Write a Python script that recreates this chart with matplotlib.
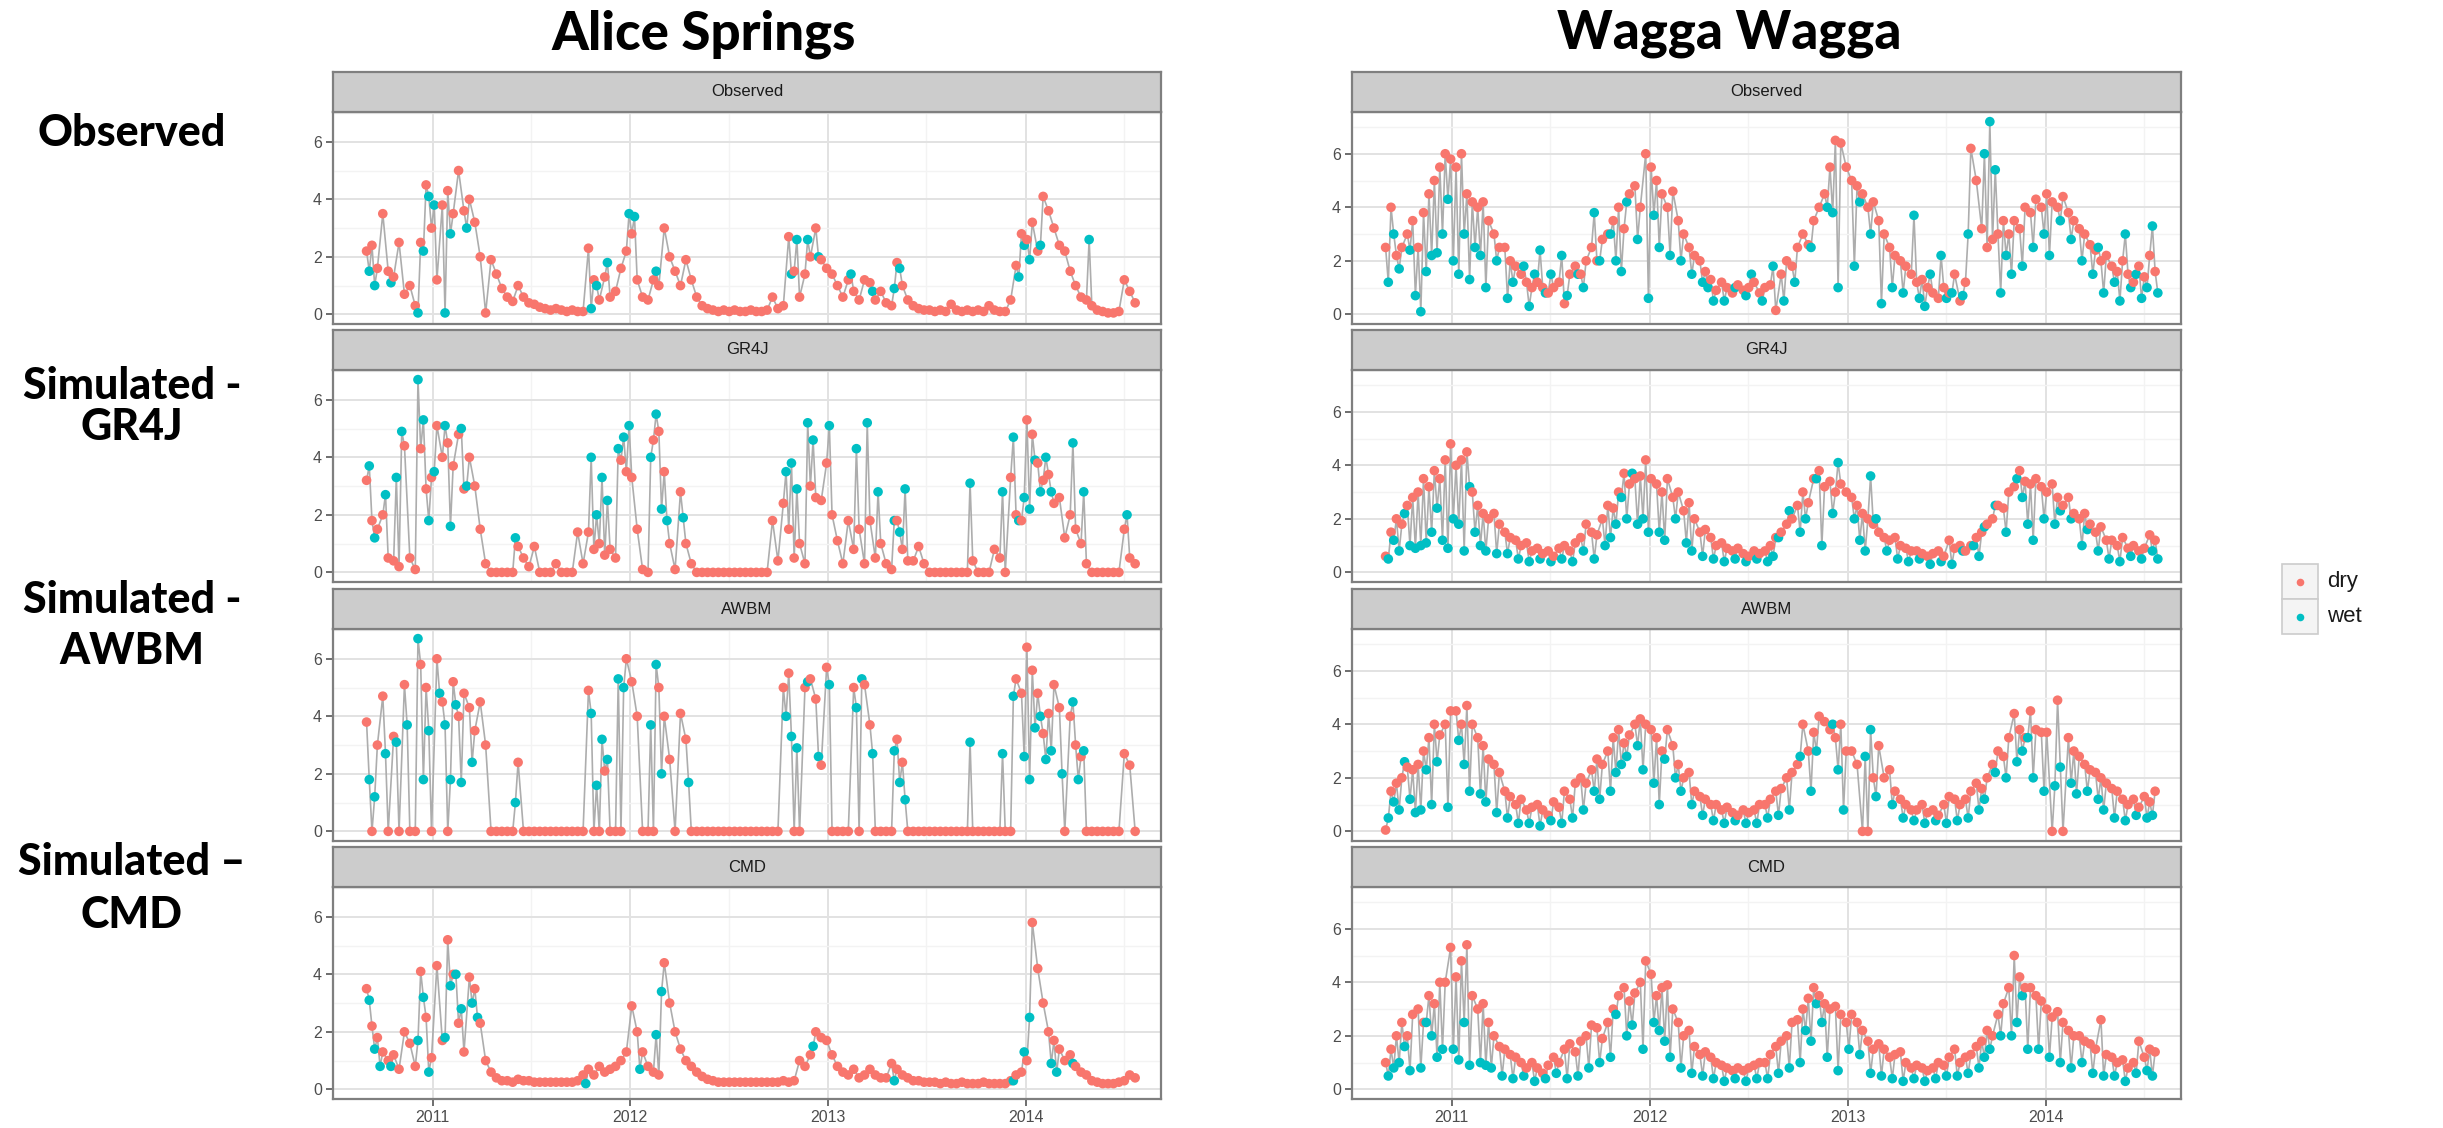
import numpy as np
import pandas as pd
import matplotlib
matplotlib.use("Agg")
import matplotlib.pyplot as plt
from matplotlib.patches import Rectangle

# ---------------------------------------------------------------- data
# values on a 10-day grid starting 1 Sep 2010.
# wet days are (grid index, value) pairs, placed 5 days after that grid date.
dates = pd.date_range("2010-09-01", periods=143, freq="10D")

sites = ["Alice Springs", "Wagga Wagga"]
models = ["Observed", "GR4J", "AWBM", "CMD"]
row_labels = [["Observed"], ["Simulated -", "GR4J"], ["Simulated -", "AWBM"],
              ["Simulated \u2013", "CMD"]]
year_ticks = [2011, 2012, 2013, 2014]
y_ticks = [0, 2, 4, 6]
legend_labels = ["dry", "wet"]

# ---- Alice Springs
as_obs_dry = [
    2.2, 2.4, 1.6, 3.5, 1.5, 1.3, 2.5, 0.7, 1.0, 0.3, 2.5, 4.5, 3.0,
    1.2, 3.8, 4.3, 3.5, 5.0, 3.6, 4.0, 3.2, 2.0, 0.05, 1.9, 1.4,
    0.9, 0.6, 0.45, 1.0, 0.6, 0.4, 0.35, 0.25, 0.2, 0.15, 0.2, 0.15,
    0.1, 0.15, 0.1, 0.1, 2.3, 1.2, 0.5, 1.3, 0.6, 0.8, 1.6, 2.2,
    2.8, 1.2, 0.6, 0.5, 1.2, 1.0, 3.0, 2.0, 1.5, 1.0, 1.9, 1.2,
    0.6, 0.3, 0.2, 0.15, 0.1, 0.15, 0.1, 0.15, 0.1, 0.1, 0.15, 0.1,
    0.1, 0.15, 0.6, 0.2, 0.3, 2.7, 1.5, 0.6, 1.4, 2.0, 3.0, 1.9, 1.6,
    1.4, 1.0, 0.6, 1.2, 0.8, 0.5, 1.2, 1.1, 0.5, 0.8, 0.4, 0.3,
    1.8, 1.0, 0.5, 0.3, 0.2, 0.15, 0.15, 0.1, 0.15, 0.1, 0.35, 0.15,
    0.1, 0.15, 0.1, 0.15, 0.1, 0.3, 0.15, 0.1, 0.1, 0.5, 1.7, 2.8,
    2.6, 3.2, 2.2, 4.1, 3.6, 3.0, 2.4, 2.2, 1.5, 1.0, 0.6, 0.5,
    0.3, 0.15, 0.1, 0.05, 0.05, 0.1, 1.2, 0.8, 0.4,
]
as_obs_wet = [(0, 1.5), (1, 1.0), (4, 1.1), (9, 0.05), (10, 2.2), (11, 4.1), (12, 3.8),
              (14, 0.05), (15, 2.8), (18, 3.0), (41, 0.2), (42, 1.0), (44, 1.8), (48, 3.5),
              (49, 3.4), (53, 1.5), (78, 1.4), (79, 2.6), (81, 2.6), (83, 2.0), (89, 1.4),
              (93, 0.8), (97, 0.9), (98, 1.6), (120, 1.3), (121, 2.4), (122, 1.9), (124, 2.4),
              (133, 2.6)]

as_gr4j_dry = [
    3.2, 1.8, 1.5, 2.0, 0.5, 0.4, 0.2, 4.4, 0.5, 0.1, 4.3, 2.9, 3.3,
    5.1, 4.0, 4.5, 3.7, 4.8, 2.9, 4.0, 3.0, 1.5, 0.3, 0.0, 0.0,
    0.0, 0.0, 0.0, 0.9, 0.5, 0.2, 0.9, 0.0, 0.0, 0.0, 0.3, 0.0,
    0.0, 0.0, 1.4, 0.3, 1.4, 0.8, 1.0, 0.6, 0.8, 0.5, 3.9, 3.5,
    3.3, 1.5, 0.1, 0.0, 4.6, 4.9, 3.5, 1.0, 0.1, 2.8, 1.0, 0.3,
    0.0, 0.0, 0.0, 0.0, 0.0, 0.0, 0.0, 0.0, 0.0, 0.0, 0.0, 0.0,
    0.0, 0.0, 1.8, 0.4, 2.4, 1.5, 0.5, 1.0, 0.3, 3.0, 2.6, 2.5, 3.8,
    2.0, 1.1, 0.3, 1.8, 0.8, 1.5, 0.3, 1.8, 0.5, 1.0, 0.3, 0.1,
    1.8, 0.8, 0.4, 0.4, 0.9, 0.3, 0.0, 0.0, 0.0, 0.0, 0.0, 0.0,
    0.0, 0.0, 0.4, 0.0, 0.0, 0.0, 0.8, 0.5, 0.0, 3.3, 2.0, 1.8,
    5.3, 4.8, 3.8, 3.2, 3.4, 2.4, 2.6, 1.2, 2.0, 1.5, 1.0, 0.3,
    0.0, 0.0, 0.0, 0.0, 0.0, 0.0, 1.5, 0.5, 0.3,
]
as_gr4j_wet = [(0, 3.7), (1, 1.2), (3, 2.7), (5, 3.3), (6, 4.9), (9, 6.7), (10, 5.3),
               (11, 1.8), (12, 3.5), (14, 5.1), (15, 1.6), (17, 5.0), (18, 3.0), (27, 1.2),
               (41, 4.0), (42, 2.0), (43, 3.3), (44, 2.5), (46, 4.3), (47, 4.7), (48, 5.1),
               (52, 4.0), (53, 5.5), (54, 2.2), (55, 1.8), (58, 1.9), (77, 3.5), (78, 3.8),
               (79, 2.9), (81, 5.2), (82, 4.6), (85, 5.1), (90, 4.3), (92, 5.2), (94, 2.8),
               (97, 1.8), (98, 1.4), (99, 2.9), (111, 3.1), (117, 2.8), (119, 4.7), (120, 1.8),
               (121, 2.6), (122, 2.2), (123, 3.9), (124, 2.8), (125, 4.0), (126, 2.8),
               (130, 4.5), (132, 2.8), (140, 2.0)]

as_awbm_dry = [
    3.8, 0.0, 3.0, 4.7, 0.0, 3.3, 0.0, 5.1, 0.0, 0.0, 5.8, 5.0, 0.0,
    6.0, 4.5, 0.0, 5.2, 4.0, 4.8, 4.3, 3.5, 4.5, 3.0, 0.0, 0.0,
    0.0, 0.0, 0.0, 2.4, 0.0, 0.0, 0.0, 0.0, 0.0, 0.0, 0.0, 0.0,
    0.0, 0.0, 0.0, 0.0, 4.9, 0.0, 0.0, 2.1, 0.0, 0.0, 0.0, 6.0,
    5.2, 4.0, 0.0, 0.0, 0.0, 5.0, 4.0, 2.5, 0.0, 4.1, 3.2, 0.0,
    0.0, 0.0, 0.0, 0.0, 0.0, 0.0, 0.0, 0.0, 0.0, 0.0, 0.0, 0.0,
    0.0, 0.0, 0.0, 0.0, 5.0, 5.5, 0.0, 0.0, 5.0, 5.3, 4.6, 2.3, 5.7,
    0.0, 0.0, 0.0, 0.0, 5.0, 0.0, 5.1, 3.7, 0.0, 0.0, 0.0, 0.0,
    3.2, 2.4, 0.0, 0.0, 0.0, 0.0, 0.0, 0.0, 0.0, 0.0, 0.0, 0.0,
    0.0, 0.0, 0.0, 0.0, 0.0, 0.0, 0.0, 0.0, 0.0, 0.0, 5.3, 4.8,
    6.4, 5.6, 4.8, 3.4, 4.1, 5.1, 4.3, 0.0, 4.0, 3.0, 2.6, 0.0,
    0.0, 0.0, 0.0, 0.0, 0.0, 0.0, 2.7, 2.3, 0.0,
]
as_awbm_wet = [(0, 1.8), (1, 1.2), (3, 2.7), (5, 3.1), (7, 3.7), (9, 6.7), (10, 1.8),
               (11, 3.5), (13, 4.8), (14, 3.7), (15, 1.8), (16, 4.4), (17, 1.7), (19, 2.4),
               (27, 1.0), (41, 4.1), (42, 1.6), (43, 3.2), (44, 2.5), (46, 5.3), (47, 5.0),
               (52, 3.7), (53, 5.8), (54, 2.0), (59, 1.7), (77, 4.0), (78, 3.3), (79, 2.9),
               (81, 5.2), (83, 2.6), (85, 5.1), (90, 4.3), (91, 5.3), (93, 2.7), (97, 2.8),
               (98, 1.7), (99, 1.1), (111, 3.1), (117, 2.7), (119, 4.7), (121, 2.6),
               (122, 1.8), (123, 3.6), (124, 4.0), (125, 2.5), (126, 2.8), (128, 2.0),
               (130, 4.5), (131, 1.8), (132, 2.8)]

as_cmd_dry = [
    3.5, 2.2, 1.8, 1.3, 1.0, 1.2, 0.7, 2.0, 1.6, 0.8, 4.1, 2.5, 1.1,
    4.3, 1.7, 5.2, 4.0, 2.3, 1.3, 3.9, 3.5, 2.3, 1.0, 0.6, 0.4,
    0.3, 0.3, 0.25, 0.35, 0.3, 0.3, 0.25, 0.25, 0.25, 0.25, 0.25, 0.25,
    0.25, 0.25, 0.3, 0.5, 0.7, 0.5, 0.8, 0.6, 0.7, 0.8, 1.0, 1.3,
    2.9, 2.0, 1.3, 0.8, 0.6, 0.5, 4.4, 3.0, 2.0, 1.4, 1.0, 0.8,
    0.6, 0.45, 0.35, 0.3, 0.25, 0.25, 0.25, 0.25, 0.25, 0.25, 0.25, 0.25,
    0.25, 0.25, 0.25, 0.25, 0.3, 0.25, 0.3, 1.0, 0.8, 1.2, 2.0, 1.8, 1.7,
    1.2, 0.8, 0.6, 0.5, 0.7, 0.4, 0.5, 0.7, 0.5, 0.4, 0.4, 0.9,
    0.7, 0.5, 0.4, 0.3, 0.3, 0.25, 0.25, 0.25, 0.2, 0.25, 0.2, 0.2,
    0.25, 0.2, 0.2, 0.2, 0.25, 0.2, 0.2, 0.2, 0.2, 0.3, 0.5, 0.6,
    1.0, 5.8, 4.2, 3.0, 2.0, 1.7, 1.4, 1.0, 1.2, 0.8, 0.6, 0.5,
    0.3, 0.25, 0.2, 0.2, 0.2, 0.25, 0.3, 0.5, 0.4,
]
as_cmd_wet = [(0, 3.1), (1, 1.4), (2, 0.8), (4, 0.8), (9, 1.7), (10, 3.2), (11, 0.6),
              (14, 1.8), (15, 3.6), (16, 4.0), (17, 2.8), (19, 3.0), (20, 2.5), (40, 0.2),
              (50, 0.7), (53, 1.9), (54, 3.4), (82, 1.5), (97, 0.3), (119, 0.3), (121, 1.3),
              (122, 2.5), (126, 0.9), (127, 0.6), (130, 0.9)]

# ---- Wagga Wagga
ww_obs_dry = [
    2.5, 4.0, 2.2, 2.5, 3.0, 3.5, 2.5, 3.8, 4.5, 5.0, 5.5, 6.0, 5.8,
    5.5, 6.0, 4.5, 4.2, 4.0, 4.2, 3.5, 3.0, 2.5, 2.5, 2.0, 1.8,
    1.5, 1.2, 1.0, 1.2, 1.0, 0.8, 1.0, 1.2, 0.4, 1.5, 1.8, 1.5,
    2.0, 2.5, 2.0, 2.8, 3.0, 3.5, 4.0, 3.2, 4.5, 4.8, 4.0, 6.0,
    5.5, 5.0, 4.5, 4.0, 4.6, 3.5, 3.0, 2.5, 2.2, 2.0, 1.6, 1.3,
    0.9, 1.2, 1.0, 0.8, 1.1, 0.9, 1.0, 1.2, 0.8, 1.0, 1.1, 0.15,
    1.5, 2.0, 1.8, 2.5, 3.0, 2.6, 3.5, 4.0, 4.5, 5.5, 6.5, 6.4, 5.5,
    5.0, 4.8, 4.5, 4.0, 4.2, 3.5, 3.0, 2.5, 2.2, 2.0, 1.8, 1.5,
    1.2, 1.3, 1.0, 0.8, 0.6, 1.0, 0.8, 1.5, 0.5, 1.2, 6.2, 5.0,
    3.2, 2.5, 2.8, 3.0, 3.5, 3.0, 3.5, 3.2, 4.0, 3.8, 4.3, 4.0,
    4.5, 4.2, 4.0, 4.4, 3.8, 3.5, 3.2, 3.0, 2.6, 2.4, 2.0, 2.2,
    1.8, 1.6, 2.0, 1.5, 1.2, 1.8, 1.4, 2.2, 1.6,
]
ww_obs_wet = [(0, 1.2), (1, 3.0), (2, 1.7), (4, 2.4), (5, 0.7), (6, 0.1), (7, 1.6),
              (8, 2.2), (9, 2.3), (10, 3.0), (11, 4.3), (12, 2.0), (13, 1.5), (14, 3.0),
              (15, 1.3), (16, 2.5), (17, 2.2), (18, 1.0), (20, 2.0), (22, 0.6), (23, 1.2),
              (25, 1.8), (26, 0.3), (27, 1.5), (28, 2.4), (29, 0.8), (30, 1.5), (32, 2.2),
              (33, 0.7), (35, 1.5), (36, 1.0), (38, 3.8), (39, 2.0), (41, 3.0), (42, 2.0),
              (43, 1.6), (44, 4.2), (46, 2.8), (48, 0.6), (49, 3.7), (50, 2.5), (52, 2.2),
              (54, 2.0), (56, 1.5), (58, 1.2), (59, 1.0), (60, 0.5), (62, 0.5), (64, 1.0),
              (66, 0.7), (67, 1.5), (69, 0.5), (71, 1.8), (73, 0.5), (75, 1.2), (78, 2.5),
              (81, 4.0), (82, 3.8), (83, 1.0), (86, 1.8), (87, 4.2), (89, 3.0), (91, 0.4),
              (93, 1.0), (95, 0.8), (97, 3.7), (98, 0.6), (99, 0.3), (100, 1.5), (102, 2.2),
              (103, 0.6), (104, 0.8), (106, 0.7), (107, 3.0), (110, 6.0), (111, 7.2),
              (112, 5.4), (113, 0.8), (114, 2.2), (115, 1.5), (117, 1.8), (119, 2.5),
              (121, 3.0), (122, 2.2), (124, 3.5), (126, 2.8), (128, 2.0), (130, 1.5),
              (131, 2.5), (132, 0.8), (134, 1.2), (135, 0.5), (136, 3.0), (137, 1.0),
              (138, 1.5), (139, 0.6), (140, 1.0), (141, 3.3), (142, 0.8)]

ww_gr4j_dry = [
    0.6, 1.5, 2.0, 1.8, 2.5, 2.8, 3.0, 3.5, 3.2, 3.8, 3.5, 4.2, 4.8,
    4.0, 4.2, 4.5, 3.0, 2.5, 2.2, 2.0, 2.2, 1.8, 1.5, 1.3, 1.2,
    1.0, 1.1, 0.8, 0.9, 0.7, 0.8, 0.6, 0.9, 1.0, 0.8, 1.1, 1.3,
    1.8, 1.5, 1.4, 2.0, 2.5, 2.4, 3.0, 3.7, 3.3, 3.5, 3.6, 4.2,
    3.5, 3.3, 3.0, 3.5, 2.8, 3.0, 2.3, 2.6, 2.0, 1.5, 1.6, 1.3,
    1.0, 1.1, 0.9, 0.8, 0.9, 0.7, 0.6, 0.8, 0.7, 0.8, 1.0, 1.3,
    1.5, 1.8, 2.0, 2.5, 3.0, 2.6, 3.5, 3.8, 3.2, 3.4, 3.0, 3.3, 3.0,
    2.8, 2.5, 2.2, 2.0, 1.8, 1.5, 1.3, 1.2, 1.3, 1.0, 0.9, 0.8,
    0.8, 0.7, 0.6, 0.7, 0.8, 0.6, 1.2, 0.9, 1.0, 0.8, 1.0, 1.3,
    1.5, 1.8, 2.0, 2.5, 2.4, 3.0, 3.2, 3.8, 3.4, 3.3, 3.5, 3.2,
    3.0, 3.3, 2.8, 2.5, 2.8, 2.2, 2.0, 2.2, 1.8, 1.5, 1.7, 1.2,
    1.2, 1.0, 1.3, 0.9, 1.0, 0.8, 0.9, 1.4, 1.2,
]
ww_gr4j_wet = [(0, 0.5), (1, 1.2), (2, 0.8), (3, 2.2), (4, 1.0), (5, 0.9), (6, 1.0),
               (7, 1.1), (8, 1.5), (9, 2.4), (10, 1.2), (11, 0.9), (12, 2.0), (13, 1.8),
               (14, 0.8), (15, 3.2), (16, 1.5), (17, 1.0), (18, 0.8), (20, 0.7), (22, 0.7),
               (24, 0.5), (26, 0.4), (28, 0.5), (30, 0.4), (32, 0.5), (34, 0.4), (36, 0.8),
               (38, 0.5), (40, 1.0), (41, 1.3), (42, 1.8), (43, 2.8), (44, 2.0), (45, 3.7),
               (46, 1.8), (47, 2.0), (48, 1.5), (50, 1.5), (51, 1.2), (53, 2.0), (55, 1.1),
               (56, 0.8), (58, 0.6), (60, 0.5), (62, 0.4), (64, 0.5), (66, 0.4), (68, 0.5),
               (70, 0.4), (71, 0.6), (72, 1.3), (74, 2.3), (76, 1.5), (77, 2.0), (79, 3.5),
               (80, 1.0), (82, 2.2), (83, 4.1), (86, 2.0), (87, 1.2), (88, 0.8), (89, 3.6),
               (90, 2.0), (92, 0.8), (94, 0.5), (96, 0.4), (98, 0.5), (100, 0.3), (102, 0.4),
               (104, 0.3), (106, 0.8), (108, 1.0), (109, 0.6), (110, 1.7), (112, 2.5),
               (114, 1.5), (116, 3.5), (117, 2.8), (118, 1.8), (119, 1.2), (121, 2.0),
               (123, 1.8), (124, 2.3), (126, 2.0), (128, 1.0), (129, 1.6), (131, 0.8),
               (133, 0.5), (135, 0.4), (137, 0.6), (139, 0.5), (141, 0.8), (142, 0.5)]

ww_awbm_dry = [
    0.05, 1.5, 1.8, 2.0, 2.4, 2.3, 2.5, 3.0, 3.5, 4.0, 3.6, 4.0, 4.5,
    4.5, 4.0, 4.7, 4.0, 3.5, 3.2, 2.7, 2.5, 2.2, 1.5, 1.3, 1.0,
    1.2, 0.8, 0.9, 1.0, 0.8, 0.6, 1.1, 0.9, 1.5, 1.2, 1.8, 2.0,
    1.8, 2.3, 2.7, 2.5, 3.0, 3.5, 3.8, 3.3, 3.6, 4.0, 4.2, 4.0,
    3.8, 3.5, 3.0, 3.8, 3.2, 2.5, 2.0, 2.2, 1.5, 1.3, 1.2, 1.0,
    1.0, 0.8, 0.9, 0.7, 0.6, 0.8, 0.7, 0.8, 1.0, 1.0, 1.2, 1.5,
    1.6, 2.0, 2.2, 2.5, 4.0, 3.0, 3.7, 4.3, 4.1, 3.8, 3.5, 4.0, 3.0,
    3.0, 2.5, 0.0, 0.0, 2.0, 3.2, 2.0, 2.3, 1.5, 1.2, 1.0, 0.8,
    0.8, 1.0, 0.7, 0.8, 0.6, 1.0, 1.3, 1.2, 1.0, 1.2, 1.5, 1.8,
    1.6, 2.0, 2.5, 3.0, 2.8, 3.5, 4.4, 3.8, 3.5, 4.5, 3.8, 3.7,
    3.7, 0.0, 4.9, 0.0, 3.5, 3.0, 2.8, 2.5, 2.3, 2.2, 2.0, 1.8,
    1.6, 1.5, 1.2, 1.0, 1.2, 0.9, 1.3, 1.1, 1.5,
]
ww_awbm_wet = [(0, 0.5), (1, 1.1), (2, 0.8), (3, 2.6), (4, 1.2), (5, 0.7), (6, 0.8),
               (7, 2.3), (8, 1.0), (9, 2.6), (11, 0.9), (13, 3.4), (14, 2.5), (15, 1.5),
               (17, 1.4), (18, 1.1), (20, 0.7), (22, 0.5), (24, 0.3), (26, 0.3), (28, 0.2),
               (30, 0.4), (32, 0.3), (34, 0.5), (36, 0.8), (38, 1.5), (39, 1.2), (41, 1.5),
               (42, 2.2), (43, 2.5), (44, 2.8), (46, 3.2), (47, 2.3), (49, 1.8), (50, 1.0),
               (51, 2.7), (53, 2.0), (54, 1.5), (56, 1.0), (58, 0.6), (60, 0.4), (62, 0.3),
               (64, 0.4), (66, 0.3), (68, 0.3), (70, 0.5), (72, 0.6), (74, 0.8), (76, 2.8),
               (78, 1.5), (79, 3.0), (82, 4.0), (83, 2.3), (84, 0.8), (88, 2.8), (89, 3.8),
               (90, 1.3), (93, 1.0), (95, 0.5), (97, 0.4), (99, 0.3), (101, 0.4), (103, 0.3),
               (105, 0.4), (107, 0.5), (109, 0.8), (110, 1.2), (112, 2.2), (114, 2.0),
               (116, 2.6), (117, 3.0), (118, 3.5), (119, 2.0), (121, 1.5), (123, 1.7),
               (124, 2.4), (126, 1.8), (127, 1.4), (129, 1.5), (131, 1.2), (132, 0.8),
               (134, 0.5), (136, 0.4), (138, 0.6), (140, 0.5), (141, 0.6)]

ww_cmd_dry = [
    1.0, 1.5, 2.0, 2.5, 2.0, 2.8, 3.0, 2.5, 3.5, 3.2, 4.0, 4.0, 5.3,
    4.2, 4.8, 5.4, 3.5, 3.0, 3.2, 2.5, 2.0, 1.6, 1.5, 1.3, 1.2,
    1.0, 0.8, 1.0, 0.8, 0.6, 0.9, 1.2, 1.0, 1.5, 1.7, 1.4, 1.8,
    2.0, 2.4, 2.3, 1.9, 2.5, 3.0, 3.5, 3.8, 3.3, 3.6, 4.0, 4.8,
    4.3, 3.5, 3.8, 3.9, 3.0, 2.5, 2.0, 2.2, 1.6, 1.3, 1.4, 1.2,
    1.0, 0.9, 0.8, 0.7, 0.8, 0.7, 0.8, 0.9, 1.0, 1.0, 1.3, 1.6,
    1.8, 2.0, 2.5, 2.6, 3.0, 3.4, 3.8, 3.5, 3.2, 3.0, 3.1, 2.8, 2.5,
    2.8, 2.5, 2.2, 1.8, 1.5, 1.7, 1.5, 1.2, 1.3, 1.4, 1.0, 0.8,
    0.9, 0.8, 0.7, 0.8, 1.0, 0.9, 1.2, 1.5, 1.0, 1.2, 1.3, 1.6,
    1.8, 2.2, 2.0, 2.8, 3.2, 3.8, 5.0, 4.2, 3.8, 3.8, 3.5, 3.3,
    3.0, 2.7, 2.9, 2.5, 2.2, 2.0, 2.0, 1.8, 1.7, 1.5, 2.6, 1.3,
    1.2, 1.0, 1.1, 0.8, 1.0, 1.8, 1.2, 1.5, 1.4,
]
ww_cmd_wet = [(0, 0.5), (1, 0.8), (2, 1.0), (3, 1.6), (4, 0.7), (6, 0.8), (7, 2.5),
              (8, 2.0), (9, 1.2), (10, 1.5), (12, 1.5), (13, 1.1), (14, 2.5), (15, 0.9),
              (17, 1.0), (18, 0.9), (19, 0.8), (21, 0.5), (23, 0.4), (25, 0.5), (27, 0.3),
              (29, 0.4), (31, 0.6), (33, 0.4), (35, 0.5), (37, 0.8), (39, 1.0), (41, 1.2),
              (42, 2.8), (44, 2.0), (45, 2.4), (47, 1.5), (49, 2.5), (50, 2.2), (51, 1.8),
              (52, 1.2), (54, 0.8), (56, 0.6), (58, 0.5), (60, 0.4), (62, 0.3), (64, 0.4),
              (66, 0.3), (68, 0.4), (70, 0.4), (72, 0.6), (74, 0.8), (76, 1.0), (77, 2.2),
              (78, 1.8), (79, 3.2), (80, 2.5), (81, 1.2), (83, 0.7), (85, 1.5), (87, 1.3),
              (89, 0.6), (91, 0.5), (93, 0.4), (95, 0.3), (97, 0.4), (99, 0.3), (101, 0.4),
              (103, 0.5), (105, 0.5), (107, 0.6), (109, 0.8), (110, 1.2), (111, 1.5),
              (113, 2.0), (115, 2.0), (116, 2.5), (117, 3.5), (118, 1.5), (120, 1.5),
              (122, 1.2), (124, 1.0), (126, 0.8), (128, 1.0), (130, 0.6), (132, 0.5),
              (134, 0.5), (136, 0.3), (138, 0.6), (140, 0.7), (141, 0.5)]

series = {
    "Alice Springs": [(as_obs_dry, as_obs_wet), (as_gr4j_dry, as_gr4j_wet),
                      (as_awbm_dry, as_awbm_wet), (as_cmd_dry, as_cmd_wet)],
    "Wagga Wagga": [(ww_obs_dry, ww_obs_wet), (ww_gr4j_dry, ww_gr4j_wet),
                    (ww_awbm_dry, ww_awbm_wet), (ww_cmd_dry, ww_cmd_wet)],
}

# ---------------------------------------------------------------- style
DRY = "#F8766D"
WET = "#00BFC4"
LINE = "#ADADAD"
plt.rcParams["font.family"] = ["Liberation Sans", "DejaVu Sans"]

W, H = 2443, 1128
fig = plt.figure(figsize=(W / 100, H / 100), dpi=100)


def rect(x, y, w, h):
    # pixel box (top-left origin) -> figure fraction
    return [x / W, 1 - (y + h) / H, w / W, h / H]


col_x = [333, 1352]
col_w = [828, 829]
row_y = [72, 330, 589, 847]
strip_h, plot_h = 40, 212


def points(dry, wet):
    assert len(dry) == len(dates)
    wi = [i for i, _ in wet]
    wv = [v for _, v in wet]
    x = np.concatenate([dates.values, (dates[wi] + pd.Timedelta(days=5)).values])
    y = np.concatenate([np.asarray(dry, float), np.asarray(wv, float)])
    c = np.array([DRY] * len(dry) + [WET] * len(wv))
    o = np.argsort(x, kind="stable")
    return x[o], y[o], c[o]


# shared x range; the reference leaves only a narrow margin at each end
all_x = np.concatenate([points(d, w)[0] for s in sites for d, w in series[s]])
x0, x1 = pd.Timestamp(all_x.min()), pd.Timestamp(all_x.max())
xpad = (x1 - x0) * 0.03

for c, site in enumerate(sites):
    vals = np.concatenate([points(d, w)[1] for d, w in series[site]])
    lo, hi = vals.min(), vals.max()
    ypad = (hi - lo) * 0.05
    for r, model in enumerate(models):
        x, y, col = points(*series[site][r])
        ax = fig.add_axes(rect(col_x[c], row_y[r] + strip_h, col_w[c], plot_h))
        ax.plot(x, y, color=LINE, lw=1.2, zorder=2)
        ax.scatter(x, y, c=col, s=48, linewidths=0, zorder=3)
        ax.set_xlim(x0 - xpad, x1 + xpad)
        ax.set_ylim(lo - ypad, hi + ypad)
        ax.set_xticks([pd.Timestamp(f"{yr}-01-01") for yr in year_ticks])
        ax.set_xticks([pd.Timestamp(f"{yr}-07-01") for yr in range(2010, 2015)], minor=True)
        ax.set_yticks(y_ticks)
        ax.set_yticks([1, 3, 5, 7], minor=True)
        ax.set_yticklabels([str(t) for t in y_ticks])
        ax.grid(True, which="major", color="#E2E2E2", lw=1.4)
        ax.grid(True, which="minor", color="#F3F3F3", lw=1.0)
        ax.set_axisbelow(True)
        for s in ax.spines.values():
            s.set_color("#7F7F7F")
            s.set_linewidth(1.6)
        ax.tick_params(which="major", length=5, width=1.2, color="#555555",
                       labelsize=11.5, labelcolor="#4D4D4D", pad=3)
        ax.tick_params(which="minor", length=0)
        if r == len(models) - 1:
            ax.set_xticklabels([str(t) for t in year_ticks])
        else:
            ax.tick_params(axis="x", which="major", length=0, labelbottom=False)

        sax = fig.add_axes(rect(col_x[c], row_y[r], col_w[c], strip_h))
        sax.set_facecolor("#CCCCCC")
        sax.set_xticks([])
        sax.set_yticks([])
        for s in sax.spines.values():
            s.set_color("#7F7F7F")
            s.set_linewidth(1.6)
        sax.text(0.5, 0.5, model, transform=sax.transAxes, ha="center", va="center",
                 fontsize=12, color="#1A1A1A")

# column titles
title_x = [704, 1729]
for c, site in enumerate(sites):
    fig.text(title_x[c] / W, 1 - 34 / H, site, ha="center", va="center",
             fontsize=38, fontweight="black", family="Lato", color="black")

# row labels
label_y = [[133], [386, 427], [600, 651], [862, 915]]
for lines, ys in zip(row_labels, label_y):
    for txt, yy in zip(lines, ys):
        fig.text(132 / W, 1 - yy / H, txt, ha="center", va="center",
                 fontsize=31, fontweight="black", family="Lato", color="black")

# legend
lax = fig.add_axes(rect(2282, 564, 36, 70))
lax.set_xlim(0, 1)
lax.set_ylim(0, 2)
lax.axis("off")
for k, (lab, colr) in enumerate(zip(legend_labels, [DRY, WET])):
    yb = 1 - k
    lax.add_patch(Rectangle((0, yb), 1, 1, facecolor="#F4F4F4", edgecolor="#CCCCCC",
                            lw=1.2, clip_on=False))
    lax.scatter([0.5], [yb + 0.5], s=30, color=colr, linewidths=0, clip_on=False)
    lax.text(1.25, yb + 0.5, lab, fontsize=16, va="center", ha="left", color="#1A1A1A")

fig.savefig("out.png", dpi=100)
